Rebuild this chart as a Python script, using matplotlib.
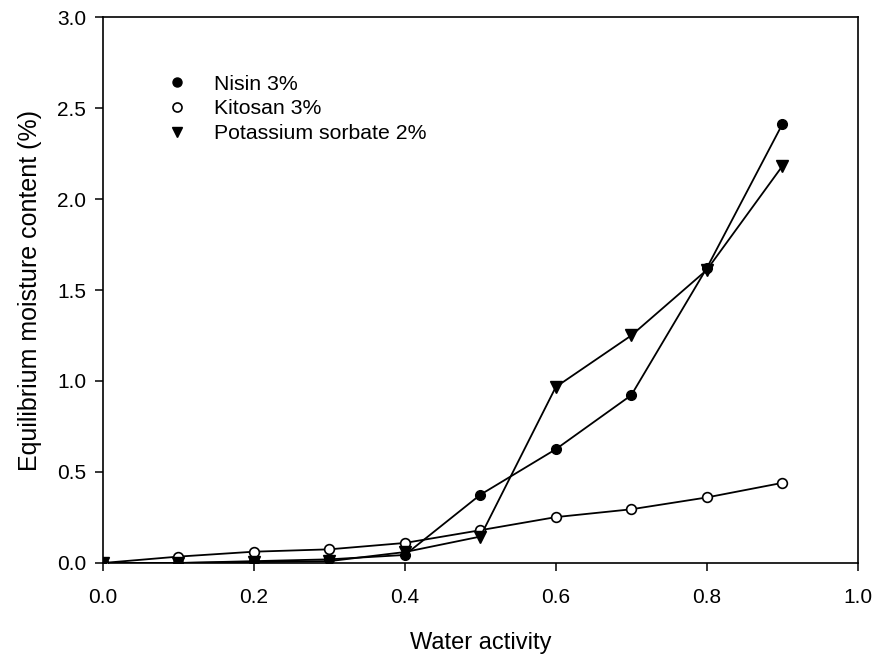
import matplotlib
matplotlib.use("Agg")
import matplotlib.pyplot as plt
from matplotlib.lines import Line2D

plt.rcParams['font.family'] = ['Liberation Sans', 'DejaVu Sans']

water_activity = [0.0, 0.1, 0.2, 0.3, 0.4, 0.5, 0.6, 0.7, 0.8, 0.9]
nisin = [0.0, 0.0, 0.01, 0.02, 0.044, 0.375, 0.625, 0.922, 1.62, 2.41]
kitosan = [0.0, 0.035, 0.062, 0.075, 0.11, 0.18, 0.252, 0.295, 0.36, 0.44]
sorbate = [0.0, 0.0, 0.005, 0.01, 0.06, 0.145, 0.967, 1.25, 1.61, 2.18]
labels = ["Nisin 3%", "Kitosan 3%", "Potassium sorbate 2%"]
xticks = [0.0, 0.2, 0.4, 0.6, 0.8, 1.0]
yticks = [0.0, 0.5, 1.0, 1.5, 2.0, 2.5, 3.0]

fig = plt.figure(figsize=(8.77, 6.55), dpi=100)
ax = fig.add_axes([0.1174, 0.1405, 0.8606, 0.8335])

ms = 7
ax.plot(water_activity, nisin, color='black', lw=1.3, marker='o', ms=ms,
        mfc='black', mec='black', zorder=3)
ax.plot(water_activity, kitosan, color='black', lw=1.3, marker='o', ms=ms,
        mfc='white', mec='black', mew=1.2, zorder=3)
ax.plot(water_activity, sorbate, color='black', lw=1.3, marker='v', ms=ms + 1,
        mfc='black', mec='black', zorder=3)

ax.set_xlim(0, 1.0)
ax.set_ylim(0, 3.0)
ax.set_xticks(xticks)
ax.set_yticks(yticks)
ax.set_xticklabels([f"{t:.1f}" for t in xticks])
ax.set_yticklabels([f"{t:.1f}" for t in yticks])
ax.tick_params(direction='out', length=6, width=1.1, labelsize=15,
               top=False, right=False)
ax.tick_params(axis='x', pad=12)
ax.tick_params(axis='y', pad=6)
for s in ax.spines.values():
    s.set_linewidth(1.2)

ax.set_xlabel("Water activity", fontsize=17, labelpad=18)
ax.set_ylabel("Equilibrium moisture content (%)", fontsize=18, labelpad=11)

handles = [
    Line2D([], [], ls='none', marker='o', ms=6.5, mfc='black', mec='black'),
    Line2D([], [], ls='none', marker='o', ms=6.5, mfc='white', mec='black', mew=1.2),
    Line2D([], [], ls='none', marker='v', ms=7.5, mfc='black', mec='black'),
]
ax.legend(handles, labels, loc='upper left', bbox_to_anchor=(0.073, 0.91),
          frameon=False, fontsize=15.3, handletextpad=1.25, labelspacing=0.27,
          handlelength=1.0, borderaxespad=0)

fig.savefig("out.png", dpi=100)
